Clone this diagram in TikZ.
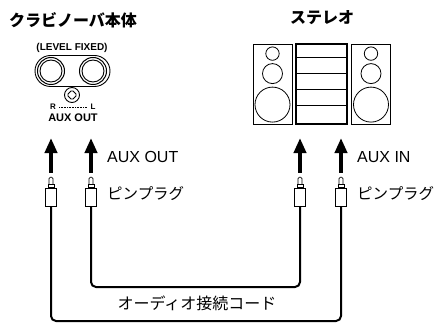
\documentclass[tikz,border=0pt]{standalone}
\usepackage{fontspec}
\setmainfont{Liberation Sans}
\newfontfamily\jpfont{Noto Sans CJK JP}
\usetikzlibrary{arrows.meta}

\begin{document}
\begin{tikzpicture}[x=1pt,y=-1pt,
  heading/.style={font=\jpfont\bfseries\fontsize{16}{16}\selectfont, inner sep=0},
  caption/.style={font=\jpfont\fontsize{15.5}{16}\selectfont, anchor=west, inner sep=0},
  latincaption/.style={font=\fontsize{16}{16}\selectfont, anchor=west, inner sep=0},
  panel/.style={font=\bfseries\fontsize{10}{10}\selectfont, inner sep=0},
  tiny/.style={font=\bfseries\fontsize{8}{8}\selectfont, inner sep=0},
  speaker/.style={draw, line width=0.8pt, minimum width=39pt, minimum height=80pt, inner sep=0},
  amp/.style={draw, line width=1.1pt, minimum width=51pt, minimum height=80pt, inner sep=0},
  plugbody/.style={draw, line width=0.8pt, fill=white, minimum width=11pt, minimum height=18pt, inner sep=0},
  cable/.style={line width=2pt, rounded corners=5pt},
  signal/.style={line width=4.3pt, -{Triangle[width=12pt,length=15pt]}},
]
\useasboundingbox (0,0) rectangle (438,323);

% headings
\node[heading] (pianotitle) at (73,20) {クラビノーバ本体};
\node[heading] (stereotitle) at (322,18) {ステレオ};

% output panel of the instrument
\node[panel] (level) at (72,48) {(LEVEL FIXED)};
\draw[line width=0.9pt, rounded corners=15.5pt] (35,55.5) rectangle (110,86.5);
\foreach \x in {51,93} {
  \draw[line width=1pt, fill=white] (\x,71) circle (13.5);
  \draw[line width=0.9pt] (\x,71) circle (11);
}
\draw[line width=0.9pt, fill=white] (72,95) circle (7.5);
\draw[line width=0.8pt, rounded corners=1.5pt] (72,90) -- (77,95) -- (72,100) -- (67,95) -- cycle;
\node[tiny] (rlabel) at (53,107) {R};
\node[tiny] (llabel) at (93,107) {L};
\draw[densely dotted, line width=0.6pt] ([xshift=3pt]rlabel.east) -- ([xshift=-3pt]llabel.west);
\node[panel, font=\bfseries\fontsize{11}{11}\selectfont] (auxout) at (73,118) {AUX\hspace{3pt}OUT};

% stereo set
\node[speaker] (spkL) at (272.5,84) {};
\node[amp] (ampbox) at (321.5,84) {};
\node[speaker] (spkR) at (371,84) {};
\foreach \s in {spkL,spkR} {
  \draw[line width=0.8pt] (\s.north) ++(0,10) circle (6.7);
  \draw[line width=0.8pt] (\s.north) ++(0,30) circle (10);
  \draw[line width=0.8pt] (\s.north) ++(0,61) circle (17.5);
}
\foreach \yy in {14,30,46,62}
  \draw[line width=1.1pt] (ampbox.north west) ++(0,\yy) -- ++(51,0);

% pin plugs
\node[plugbody] (plugA) at (51,197) {};
\node[plugbody] (plugB) at (91,197) {};
\node[plugbody] (plugC) at (300,197) {};
\node[plugbody] (plugD) at (341,197) {};
\foreach \p in {plugA,plugB,plugC,plugD} {
  \draw[line width=0.7pt, fill=white, rounded corners=1.5pt]
    (\p.north) ++(-2,-2.5) -- ++(0,-8) -- ++(4,0) -- ++(0,8);
  \draw[line width=0.7pt, fill=white] (\p.north) ++(-3,0) rectangle ++(6,-3);
}

% signal direction
\coordinate (tipA) at (51,138);
\coordinate (tipB) at (91,138);
\coordinate (tipC) at (300,138);
\coordinate (tipD) at (341,138);
\draw[signal] ([yshift=15pt]plugA.north) -- (tipA);
\draw[signal] ([yshift=15pt]plugB.north) -- (tipB);
\draw[signal] ([yshift=15pt]plugC.north) -- (tipC);
\draw[signal] ([yshift=15pt]plugD.north) -- (tipD);

% audio cords
\coordinate (loopOuter) at (196,321);
\coordinate (loopInner) at (196,287);
\draw[cable] (plugA.south) |- (loopOuter) -| (plugD.south);
\draw[cable] (plugB.south) |- (loopInner) -| (plugC.south);

% captions
\node[latincaption] (auxoutlbl) at (107,157) {AUX OUT};
\node[caption] (pinlblA) at (107,194) {ピンプラグ};
\node[latincaption] (auxinlbl) at (357,157) {AUX IN};
\node[caption] (pinlblB) at (357,194) {ピンプラグ};
\node[caption, anchor=center, font=\jpfont\fontsize{16}{16}\selectfont] (cordlbl) at (197,303) {オーディオ接続コード};
\end{tikzpicture}
\end{document}
